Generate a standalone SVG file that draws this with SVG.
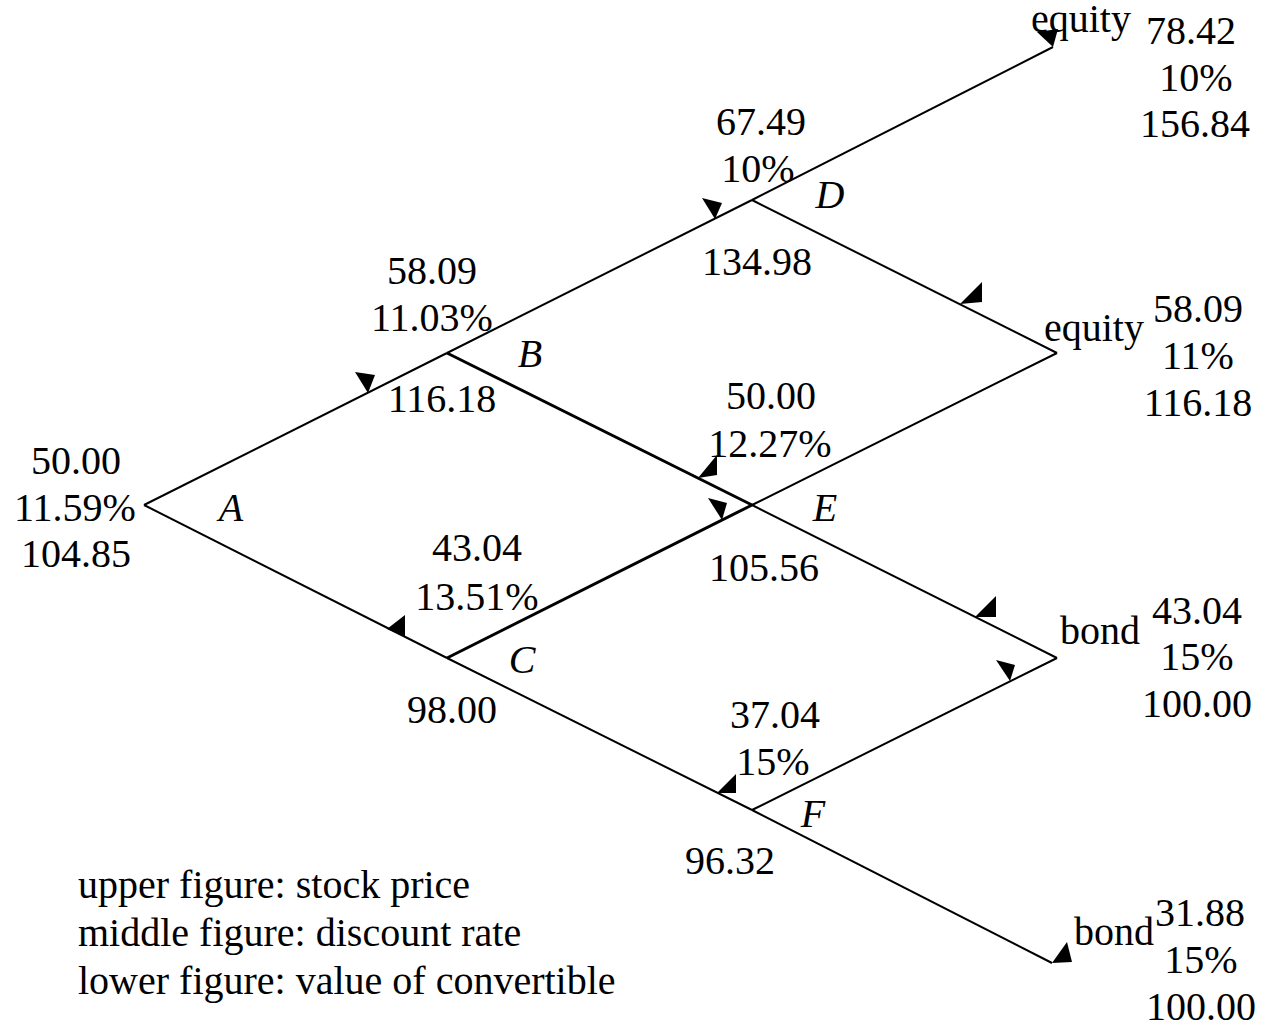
<svg xmlns="http://www.w3.org/2000/svg" width="1261" height="1028" viewBox="0 0 1261 1028">
<style>
text{font-family:"Liberation Serif","Times New Roman",serif;font-size:40px;fill:#000;text-anchor:middle}
.l{text-anchor:start}
.i{font-style:italic}
.e{stroke:#000;stroke-width:2;fill:none}
.t{stroke-width:3}
.h{fill:#000;stroke:none}
</style>
<rect width="1261" height="1028" fill="#fff"/>
<g id="connectors">
<path class="e" d="M144,505 L447,353"/>
<path class="e" d="M144,505 L447,658"/>
<path class="e" d="M447,353 L752,200"/>
<path class="e t" d="M447,353 L752,505"/>
<path class="e t" d="M447,658 L752,505"/>
<path class="e" d="M447,658 L752,810"/>
<path class="e" d="M752,200 L1053,47"/>
<path class="e" d="M752,200 L1057,353"/>
<path class="e" d="M752,505 L1057,353"/>
<path class="e" d="M752,505 L1057,658"/>
<path class="e" d="M752,810 L1057,658"/>
<path class="e" d="M752,810 L1052,963"/>
<polygon class="h" points="355,372 375,375 368,393"/>
<polygon class="h" points="702,198 722,203 715,219"/>
<polygon class="h" points="960,304 982,282 982,302"/>
<polygon class="h" points="387,629 405,615 405,637"/>
<polygon class="h" points="698,478 717,455 717,475"/>
<polygon class="h" points="708,498 727,503 722,520"/>
<polygon class="h" points="975,617 996,596 996,617"/>
<polygon class="h" points="996,660 1015,665 1010,681"/>
<polygon class="h" points="717,793 736,774 736,793"/>
<polygon class="h" points="1052,963 1067,942 1072,962"/>
<polygon class="h" points="1037,32 1058,29 1053,47"/>
</g>
<g id="node-A"><text x="76" y="474">50.00</text><text x="75" y="521">11.59%</text><text x="76" y="567">104.85</text><text class="i" x="231" y="521">A</text></g>
<g id="node-B"><text x="432" y="284">58.09</text><text x="432" y="331">11.03%</text><text class="i" x="530" y="367">B</text><text x="442" y="412">116.18</text></g>
<g id="node-C"><text x="477" y="561">43.04</text><text x="477" y="610">13.51%</text><text class="i" x="522" y="673">C</text><text x="452" y="723">98.00</text></g>
<g id="node-D"><text x="761" y="135">67.49</text><text x="758" y="182">10%</text><text class="i" x="830" y="208">D</text><text x="757" y="275">134.98</text></g>
<g id="node-E"><text x="771" y="409">50.00</text><text x="770" y="457">12.27%</text><text class="i" x="825" y="521">E</text><text x="764" y="581">105.56</text></g>
<g id="node-F"><text x="775" y="728">37.04</text><text x="773" y="775">15%</text><text class="i" x="813" y="827">F</text><text x="730" y="874">96.32</text></g>
<g id="end-1"><text x="1081" y="32">equity</text><text x="1191" y="44">78.42</text><text x="1196" y="91">10%</text><text x="1195" y="137">156.84</text></g>
<g id="end-2"><text x="1094" y="341">equity</text><text x="1198" y="322">58.09</text><text x="1198" y="369">11%</text><text x="1198" y="416">116.18</text></g>
<g id="end-3"><text x="1100" y="644">bond</text><text x="1197" y="624">43.04</text><text x="1197" y="670">15%</text><text x="1197" y="717">100.00</text></g>
<g id="end-4"><text x="1114" y="945">bond</text><text x="1200" y="926">31.88</text><text x="1201" y="973">15%</text><text x="1201" y="1020">100.00</text></g>
<g id="legend"><text class="l" x="78" y="898">upper figure: stock price</text><text class="l" x="78" y="946">middle figure: discount rate</text><text class="l" x="78" y="994">lower figure: value of convertible</text></g>
</svg>
